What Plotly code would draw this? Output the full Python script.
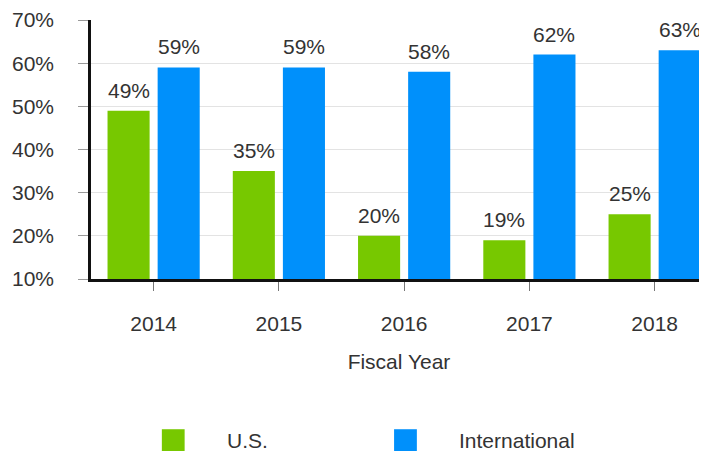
import plotly.graph_objects as go

years = ['2014', '2015', '2016', '2017', '2018']
us_share = [49, 35, 20, 19, 25]
intl_share = [59, 59, 58, 62, 63]
series_names = ['U.S.', 'International']
series_colors = ['#77c800', '#0090fb']

FONT = 'Liberation Sans, Arial, sans-serif'
TEXT = '#333333'

fig = go.Figure()
for name, vals, col in zip(series_names, [us_share, intl_share], series_colors):
    fig.add_trace(go.Bar(
        x=years, y=vals, name=name,
        marker=dict(color=col, line=dict(width=0)),
        showlegend=False,
    ))

# value labels above each bar (offset left/right for the grouped pair)
for vals, shift in zip([us_share, intl_share], [-25, 25]):
    for i, v in enumerate(vals):
        fig.add_annotation(x=i, y=v, text=f'{v}%', showarrow=False,
                           xshift=shift, yshift=7, yanchor='bottom',
                           font=dict(size=21, color=TEXT))

# page body has an 8px margin, so the figure is sized to the visible area
fig.update_layout(
    width=699, height=449,
    margin=dict(l=83, r=0, t=9, b=178),
    paper_bgcolor='white', plot_bgcolor='white',
    barmode='group', bargap=0.2, bargroupgap=0.16,
    font=dict(family=FONT, size=21, color=TEXT),
    showlegend=False,
)

fig.update_yaxes(
    range=[10, 70], dtick=10, ticksuffix='%',
    showgrid=True, gridcolor='#e3e3e3', gridwidth=1,
    showline=True, linecolor='#111111', linewidth=2.5,
    ticks='outside', ticklen=10, tickcolor='#999999', tickwidth=1,
    ticklabelstandoff=20, ticklabeloverflow='allow',
    tickfont=dict(size=21, color=TEXT),
    zeroline=False,
)
fig.update_xaxes(
    type='category', range=[-0.5, 4.418],
    showline=True, linecolor='#111111', linewidth=2.5,
    ticks='outside', ticklen=9, tickcolor='#777777', tickwidth=1,
    ticklabelstandoff=15,
    tickfont=dict(size=21, color=TEXT),
    title=dict(text='Fiscal Year', font=dict(size=21, color=TEXT), standoff=21),
)

# legend drawn below the axis title
legend_x = [0.115, 0.492]
for xs, name, col in zip(legend_x, series_names, series_colors):
    fig.add_shape(type='rect', xref='paper', yref='paper',
                  x0=xs, x1=xs + 0.037, y0=-0.664, y1=-0.580,
                  fillcolor=col, line=dict(width=0))
    fig.add_annotation(xref='paper', yref='paper', x=xs + 0.1025, y=-0.622,
                       text=name, showarrow=False, xanchor='left', yanchor='middle',
                       font=dict(size=21, color=TEXT))

fig.write_html('out.html')
